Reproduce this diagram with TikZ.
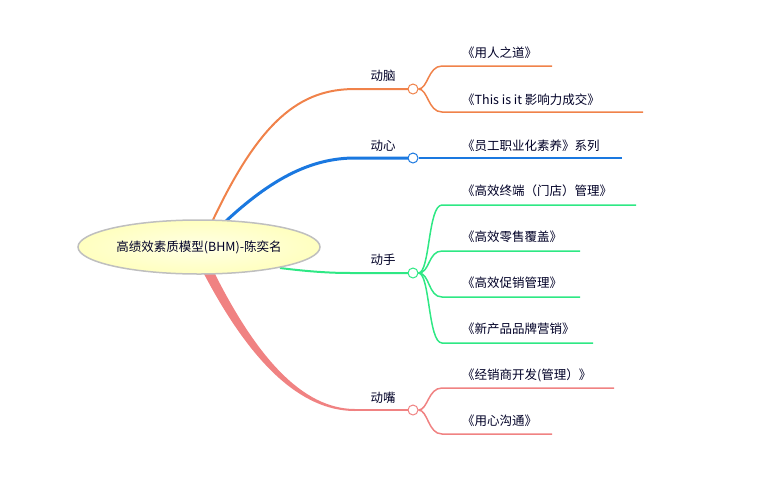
\documentclass[tikz,border=0pt]{standalone}
\usepackage{fontspec}
\setmainfont{Noto Sans CJK SC}
\usetikzlibrary{shapes.geometric}
\begin{document}
\begin{tikzpicture}[x=1pt,y=-1pt,
  lbl/.style={font=\fontsize{12.5}{14}\selectfont, text=black!85!blue, inner sep=0pt},
  knob/.style={circle,draw,fill=white,minimum size=10pt,inner sep=0pt,line width=1pt}]
\definecolor{cO}{HTML}{F0824A}
\definecolor{cB}{HTML}{1A78E0}
\definecolor{cG}{HTML}{2EE884}
\definecolor{cR}{HTML}{F08282}
\useasboundingbox (0,0) rectangle (776,480);
% branches
\draw[cO,line width=2pt] (212,222) .. controls (260,120) and (300,89) .. (355,89) -- (408,89);
\draw[cB,line width=3pt] (225,222) .. controls (270,180) and (310,158) .. (355,158) -- (408,158);
\draw[cG,line width=2pt] (280,268) .. controls (320,273) and (340,273) .. (355,273) -- (408,273);
\fill[cR] (203,272) .. controls (250,362) and (300,411) .. (355,411) -- (355,409) .. controls (302,409) and (256,356) .. (214,272) -- cycle;
\draw[cR,line width=2pt] (355,410) -- (408,410);
% center
\node[ellipse,minimum width=242pt,minimum height=54pt,draw=black!25,line width=1.5pt,
  inner color=white!90!yellow,outer color=yellow!25!white,lbl] (c) at (199,247) {高绩效素质模型(BHM)-陈奕名};
% knobs
\node[knob,draw=cO] (k1) at (413,89) {};
\node[knob,draw=cB] (k2) at (413,158) {};
\node[knob,draw=cG] (k3) at (413,273) {};
\node[knob,draw=cR] (k4) at (413,410) {};
\node[lbl] at (383,76) {动脑};
\node[lbl] at (383,146) {动心};
\node[lbl] at (383,260) {动手};
\node[lbl] at (383,398) {动嘴};
% children
\draw[cO,line width=1.5pt] (k1.east) .. controls (428,89) and (428,66) .. (442,66) -- (552,66);
\draw[cO,line width=1.5pt] (k1.east) .. controls (428,89) and (428,112) .. (442,112) -- (643,112);
\node[lbl,anchor=west] at (462,53) {《用人之道》};
\node[lbl,anchor=west] at (462,100) {《This is it 影响力成交》};
\draw[cB,line width=1.5pt] (k2.east) -- (622,158);
\node[lbl,anchor=west] at (462,146) {《员工职业化素养》系列};
\foreach \y/\e in {205/636,251/580,297/580,343/593}
  \draw[cG,line width=1.5pt] (k3.east) .. controls (430,273) and (428,\y) .. (442,\y) -- (\e,\y);
\node[lbl,anchor=west] at (462,191) {《高效终端（门店）管理》};
\node[lbl,anchor=west] at (462,237) {《高效零售覆盖》};
\node[lbl,anchor=west] at (462,283) {《高效促销管理》};
\node[lbl,anchor=west] at (462,329) {《新产品品牌营销》};
\draw[cR,line width=1.5pt] (k4.east) .. controls (428,410) and (428,388) .. (442,388) -- (614,388);
\draw[cR,line width=1.5pt] (k4.east) .. controls (428,410) and (428,434) .. (442,434) -- (552,434);
\node[lbl,anchor=west] at (462,375) {《经销商开发(管理）》};
\node[lbl,anchor=west] at (462,421) {《用心沟通》};
\end{tikzpicture}
\end{document}
